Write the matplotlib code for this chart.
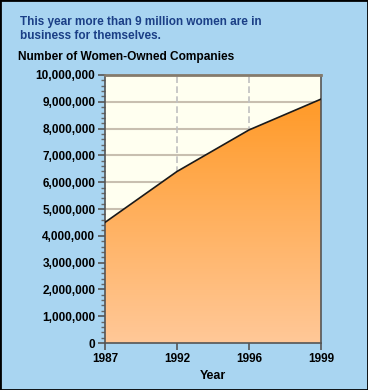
import numpy as np
import matplotlib
matplotlib.use("Agg")
import matplotlib.pyplot as plt
from matplotlib.ticker import FuncFormatter, MultipleLocator
from matplotlib.colors import LinearSegmentedColormap

# data
years = ["1987", "1992", "1996", "1999"]
companies = [4500000, 6400000, 7950000, 9100000]
y_ticks = list(range(0, 10000001, 1000000))

plt.rcParams["font.family"] = ["Liberation Sans", "DejaVu Sans"]
plt.rcParams["font.weight"] = "bold"

bg = "#a9d5f1"
fig = plt.figure(figsize=(3.68, 3.90), dpi=100, facecolor=bg)
ax = fig.add_axes([0.2853, 0.1205, 0.587, 0.6872])
ax.set_facecolor("#fffff0")

x = np.arange(len(years))
ax.set_xlim(x[0], x[-1])
ax.set_ylim(0, 10000000)

# grid
ax.set_yticks(y_ticks)
ax.yaxis.set_minor_locator(MultipleLocator(200000))
for v in y_ticks[1:-1]:
    ax.axhline(v, color="#c8bfb0", lw=1.5, zorder=1)
for xv in x[1:-1]:
    ax.axvline(xv, color="#c0c0c0", lw=1.2, ls=(0, (4, 2)), zorder=1)

# gradient area
poly = ax.fill_between(x, companies, 0, color="none", zorder=2)
cmap = LinearSegmentedColormap.from_list("o", ["#ffc898", "#ff9a28"])
grad = np.linspace(0, 1, 256).reshape(-1, 1)
im = ax.imshow(grad, cmap=cmap, aspect="auto", origin="lower",
               extent=[x[0], x[-1], 0, max(companies)], zorder=2)
im.set_clip_path(poly.get_paths()[0], transform=ax.transData)
ax.plot(x, companies, color="#1a1a1a", lw=1.2, zorder=3)

ax.set_xticks(x)
ax.set_xticklabels(years)
ax.yaxis.set_major_formatter(FuncFormatter(lambda v, p: f"{int(v):,}"))
ax.tick_params(axis="both", which="major", length=5, width=1.2,
               color="#555555", labelsize=8.5, pad=2)
ax.tick_params(axis="y", which="minor", length=3, width=1, color="#666666")
for lab in ax.get_xticklabels() + ax.get_yticklabels():
    lab.set_fontweight("bold")

for s in ["left", "bottom", "right"]:
    ax.spines[s].set_color("#555555")
    ax.spines[s].set_linewidth(1.2)
ax.spines["top"].set_color("#857b6c")
ax.spines["top"].set_linewidth(2)

ax.set_xlabel("Year", fontsize=9, fontweight="bold", labelpad=4)

fig.text(0.055, 0.96, "This year more than 9 million women are in\nbusiness for themselves.",
         color="#1b3f86", fontsize=8.5, fontweight="bold", va="top", linespacing=1.3)
fig.text(0.05, 0.868, "Number of Women-Owned Companies", color="black",
         fontsize=8.6, fontweight="bold", va="top")

# outer border
fig.patches.append(plt.Rectangle((0, 0), 1, 1, transform=fig.transFigure,
                                 fill=False, edgecolor="black", lw=2))

fig.savefig("out.png", dpi=100, facecolor=bg)
